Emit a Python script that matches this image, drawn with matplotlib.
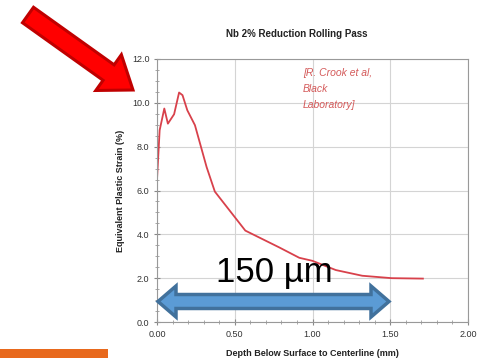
import matplotlib
matplotlib.use("Agg")
import matplotlib.pyplot as plt
from matplotlib.patches import FancyArrow, Polygon, Rectangle
from matplotlib.ticker import MultipleLocator

plt.rcParams['font.family'] = ['Liberation Sans', 'DejaVu Sans']

# strain profile
depth = [0.0, 0.017, 0.047, 0.07, 0.11, 0.142, 0.164, 0.195, 0.244, 0.319,
         0.372, 0.568, 0.787, 0.915, 1.0, 1.15, 1.32, 1.51, 1.71]
strain = [6.5, 8.75, 9.74, 9.05, 9.48, 10.47, 10.35, 9.66, 8.98, 7.07,
          5.95, 4.17, 3.40, 2.93, 2.79, 2.37, 2.11, 2.0, 1.98]

x_ticks = [0.0, 0.5, 1.0, 1.5, 2.0]
y_ticks = [0.0, 2.0, 4.0, 6.0, 8.0, 10.0, 12.0]

W, H = 481, 358
fig = plt.figure(figsize=(W / 100, H / 100), dpi=100)
ax = fig.add_axes([157 / W, 1 - 322 / H, (468 - 157) / W, (322 - 59) / H])

ax.plot(depth, strain, color='#d8414b', lw=1.3)

ax.set_xlim(0, 2.0)
ax.set_ylim(0, 12.0)
ax.set_xticks(x_ticks)
ax.set_yticks(y_ticks)
ax.set_xticklabels(['%.2f' % v for v in x_ticks])
ax.set_yticklabels(['%.1f' % v for v in y_ticks])
ax.xaxis.set_minor_locator(MultipleLocator(0.1))
ax.yaxis.set_minor_locator(MultipleLocator(0.5))
ax.tick_params(which='major', length=4, width=0.8, color='#888888',
               labelsize=6.5, labelcolor='#333333', direction='inout')
ax.tick_params(which='minor', length=2.5, width=0.6, color='#999999', direction='inout')
ax.tick_params(axis='x', pad=4)
ax.grid(True, which='major', color='#d4d4d4', lw=0.8)
for s in ax.spines.values():
    s.set_color('#999999')
    s.set_linewidth(0.8)

ax.set_title('Nb 2% Reduction Rolling Pass', fontsize=7, fontweight='bold',
             color='#222222', pad=16, x=0.45)
ax.set_xlabel('Depth Below Surface to Centerline (mm)', fontsize=6.5,
              fontweight='bold', color='#222222', labelpad=7)
ax.set_ylabel('Equivalent Plastic Strain (%)', fontsize=6.5,
              fontweight='bold', color='#222222', labelpad=5)

ax.text(0.47, 0.965, '[R. Crook et al,\nBlack\nLaboratory]', transform=ax.transAxes,
        fontsize=7.5, style='italic', color='#d45a5a', va='top', ha='left',
        linespacing=1.75)

# overlay in pixel units for the slide decorations
ov = fig.add_axes([0, 0, 1, 1], zorder=5)
ov.set_xlim(0, W)
ov.set_ylim(H, 0)
ov.axis('off')

ov.add_patch(FancyArrow(28, 15, 105, 75, width=19, head_width=44, head_length=30,
                        length_includes_head=True, facecolor='#ff0000',
                        edgecolor='#c00000', lw=2.2))

tipL, tipR, yc = 158, 389, 301.5
hl, hw, bw = 18, 15.5, 7
blue = [(tipL, yc), (tipL + hl, yc - hw), (tipL + hl, yc - bw), (tipR - hl, yc - bw),
        (tipR - hl, yc - hw), (tipR, yc), (tipR - hl, yc + hw), (tipR - hl, yc + bw),
        (tipL + hl, yc + bw), (tipL + hl, yc + hw)]
ov.add_patch(Polygon(blue, closed=True, facecolor='#5b9bd5', edgecolor='#41719c',
                     lw=2.5, joinstyle='miter'))

ov.text(274, 282, '150 µm', fontsize=25, color='black', ha='center', va='baseline')

ov.add_patch(Rectangle((0, 349), 108, 9, facecolor='#e8691d', edgecolor='none'))

fig.savefig('out.png', dpi=100)
